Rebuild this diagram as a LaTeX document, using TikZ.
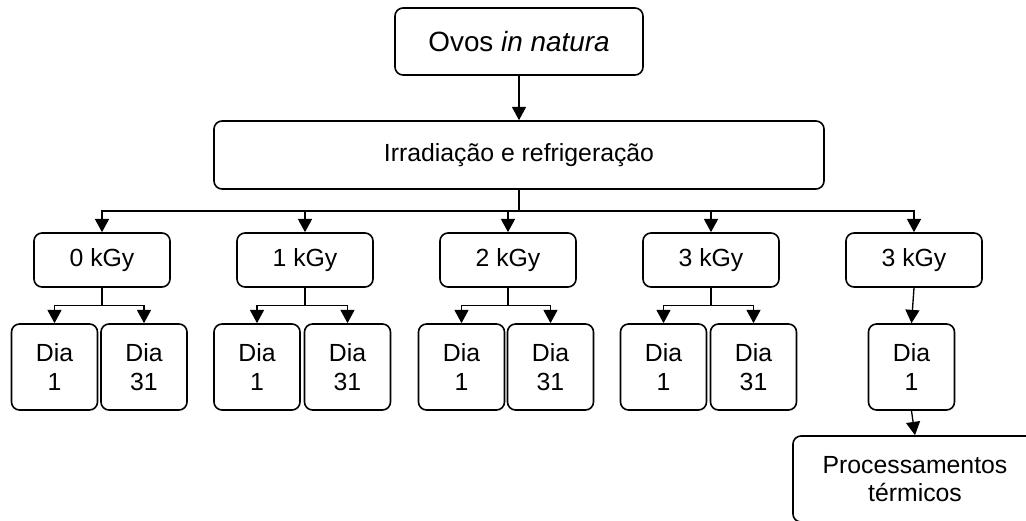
\documentclass[tikz,border=0pt]{standalone}
\usepackage{fontspec}
\setmainfont{Liberation Sans}
\usetikzlibrary{arrows.meta}
\begin{document}
\begin{tikzpicture}[x=0.75pt,y=-0.75pt,
  box/.style={draw, line width=1.2pt, rounded corners=6pt, align=center,
    font=\fontsize{18.6}{21.5}\selectfont, inner sep=0pt},
  kbox/.style={box, minimum width=102pt, minimum height=40.5pt},
  dbox/.style={box, minimum width=64.5pt, minimum height=64.5pt},
  conn/.style={line width=1pt, -{Triangle[length=10pt,width=10.5pt]}},
  busline/.style={line width=1.5pt}]
\useasboundingbox (0,0) rectangle (1026,521);
\clip (0,0) rectangle (1026,521);

\node[box, minimum width=186pt, minimum height=50.25pt, font=\fontsize{20.9}{24}\selectfont] (ovos) at (519,41.5) {Ovos \textit{in natura}};
\node[box, minimum width=457.5pt, minimum height=51pt] (irr) at (519,155) {Irradiação e refrigeração};

\node[kbox] (k0) at (102,260) {0 kGy};
\node[kbox] (k1) at (305,260) {1 kGy};
\node[kbox] (k2) at (508,260) {2 kGy};
\node[kbox] (k3) at (711,260) {3 kGy};
\node[kbox] (k4) at (914,260) {3 kGy};

\node[dbox] (d01) at (54.5,367) {Dia\\1};
\node[dbox] (d031) at (144,367) {Dia\\31};
\node[dbox] (d11) at (257,367) {Dia\\1};
\node[dbox] (d131) at (347.5,367) {Dia\\31};
\node[dbox] (d21) at (461.5,367) {Dia\\1};
\node[dbox] (d231) at (550.5,367) {Dia\\31};
\node[dbox] (d31) at (663.5,367) {Dia\\1};
\node[dbox] (d331) at (753.5,367) {Dia\\31};
\node[dbox] (d41) at (911.5,367) {Dia\\1};

\node[box, minimum width=183pt, minimum height=64.5pt] (proc) at (915,479) {Processamentos\\térmicos};

\draw[conn] (ovos.south) -- (irr.north);

\coordinate (bus) at (519,211);
\draw[busline] (irr.south) -- (bus);
\foreach \k in {k0,k1,k2,k3,k4}{
  \draw[conn,line width=1.3pt] (bus) -| (\k.north);
}

\foreach \k/\a/\b in {k0/d01/d031, k1/d11/d131, k2/d21/d231, k3/d31/d331}{
  \draw[conn] (\k.south) -- ++(0,18) -| (\a.north);
  \draw[conn] (\k.south) -- ++(0,18) -| (\b.north);
}

\draw[conn] (k4.south) -- (d41.north);
\draw[conn] (d41.south) -- (proc.north);
\end{tikzpicture}
\end{document}
